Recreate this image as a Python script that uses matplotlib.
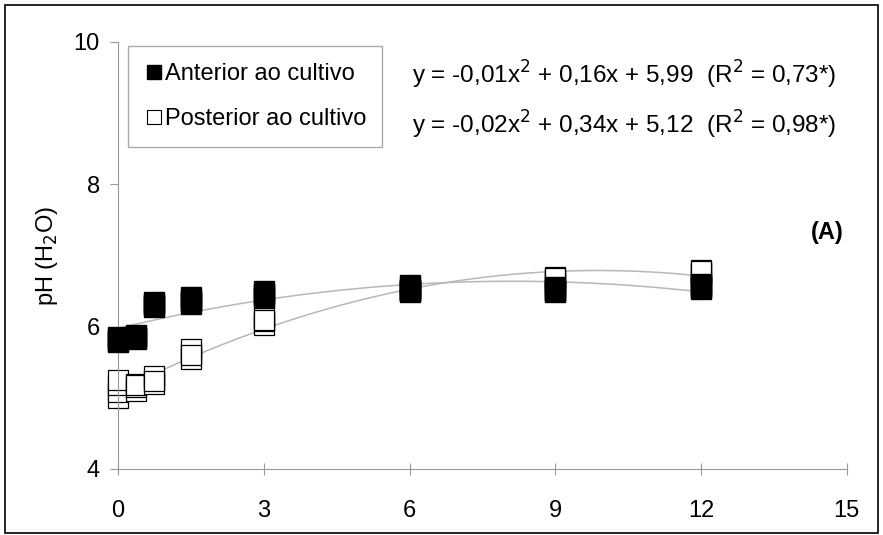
import numpy as np
import matplotlib
matplotlib.use("Agg")
import matplotlib.pyplot as plt
from matplotlib.patches import Rectangle

plt.rcParams['font.family'] = ['Liberation Sans', 'DejaVu Sans']

# doses (x) and replicate pH values
doses = [0, 0.375, 0.75, 1.5, 3, 6, 9, 12]
anterior = [
    [5.78, 5.82, 5.85, 5.80],
    [5.82, 5.86, 5.88, 5.84],
    [6.28, 6.32, 6.35, 6.30],
    [6.32, 6.36, 6.42, 6.38],
    [6.40, 6.44, 6.50, 6.46],
    [6.48, 6.52, 6.58, 6.50],
    [6.48, 6.52, 6.56, 6.50],
    [6.53, 6.57, 6.60, 6.55],
]
posterior = [
    [5.00, 5.08, 5.18, 5.25],
    [5.10, 5.15, 5.20, 5.18],
    [5.20, 5.25, 5.30, 5.24],
    [5.55, 5.62, 5.68, 5.60],
    [6.02, 6.08, 6.15, 6.10],
    [6.50, 6.53, 6.56, 6.52],
    [6.62, 6.66, 6.70, 6.68],
    [6.72, 6.76, 6.80, 6.78],
]
eq_ant = "y = -0,01x$^2$ + 0,16x + 5,99  (R$^2$ = 0,73*)"
eq_post = "y = -0,02x$^2$ + 0,34x + 5,12  (R$^2$ = 0,98*)"

fs = 17

fig = plt.figure(figsize=(8.83, 5.35), dpi=100)
ax = fig.add_axes([0.1336, 0.1234, 0.8254, 0.7981])

xs = np.linspace(0, 12, 200)
for vals in (posterior, anterior):
    means = [np.mean(v) for v in vals]
    c = np.polyfit(doses, means, 2)
    ax.plot(xs, np.polyval(c, xs), color='#b8b8b8', lw=1.1, zorder=1)

for x, v in zip(doses, posterior):
    ax.plot([x] * len(v), v, 's', ms=14, mfc='white', mec='black', mew=0.9,
            ls='none', zorder=2, clip_on=False)
for x, v in zip(doses, anterior):
    ax.plot([x] * len(v), v, 's', ms=14, mfc='black', mec='black',
            ls='none', zorder=3, clip_on=False)

ax.set_xlim(0, 15)
ax.set_ylim(4, 10)
ax.set_xticks([0, 3, 6, 9, 12, 15])
ax.set_yticks([4, 6, 8, 10])
for s in ['top', 'right']:
    ax.spines[s].set_visible(False)
for s in ['left', 'bottom']:
    ax.spines[s].set_color('#999999')
ax.tick_params(axis='x', direction='inout', length=8, color='#999999',
               labelsize=fs, pad=18)
ax.tick_params(axis='y', direction='out', length=6, color='#999999',
               labelsize=fs, pad=7)
ax.set_ylabel('pH (H$_2$O)', fontsize=fs, labelpad=10)

# legend
h1, = ax.plot([], [], 's', ms=10, mfc='black', mec='black')
h2, = ax.plot([], [], 's', ms=10, mfc='white', mec='black', mew=0.8)
leg = ax.legend([h1, h2], ['Anterior ao cultivo', 'Posterior ao cultivo'],
                loc='upper left', bbox_to_anchor=(0.0137, 0.99),
                borderaxespad=0, fontsize=fs,
                handletextpad=0.05, handlelength=0.8, borderpad=0.7,
                labelspacing=1.0, fancybox=False, edgecolor='#aaaaaa',
                framealpha=1)
leg.get_frame().set_linewidth(1.0)

ax.text(0.403, 0.923, eq_ant, transform=ax.transAxes, fontsize=17.5, va='center')
ax.text(0.403, 0.806, eq_post, transform=ax.transAxes, fontsize=17.5, va='center')
ax.text(0.951, 0.555, '(A)', transform=ax.transAxes, fontsize=fs,
        fontweight='bold', va='center', ha='left')

fig.patches.append(Rectangle((0.006, 0.004), 0.988, 0.986, transform=fig.transFigure,
                             fill=False, edgecolor='black', lw=1.2))

fig.savefig('out.png', dpi=100)
